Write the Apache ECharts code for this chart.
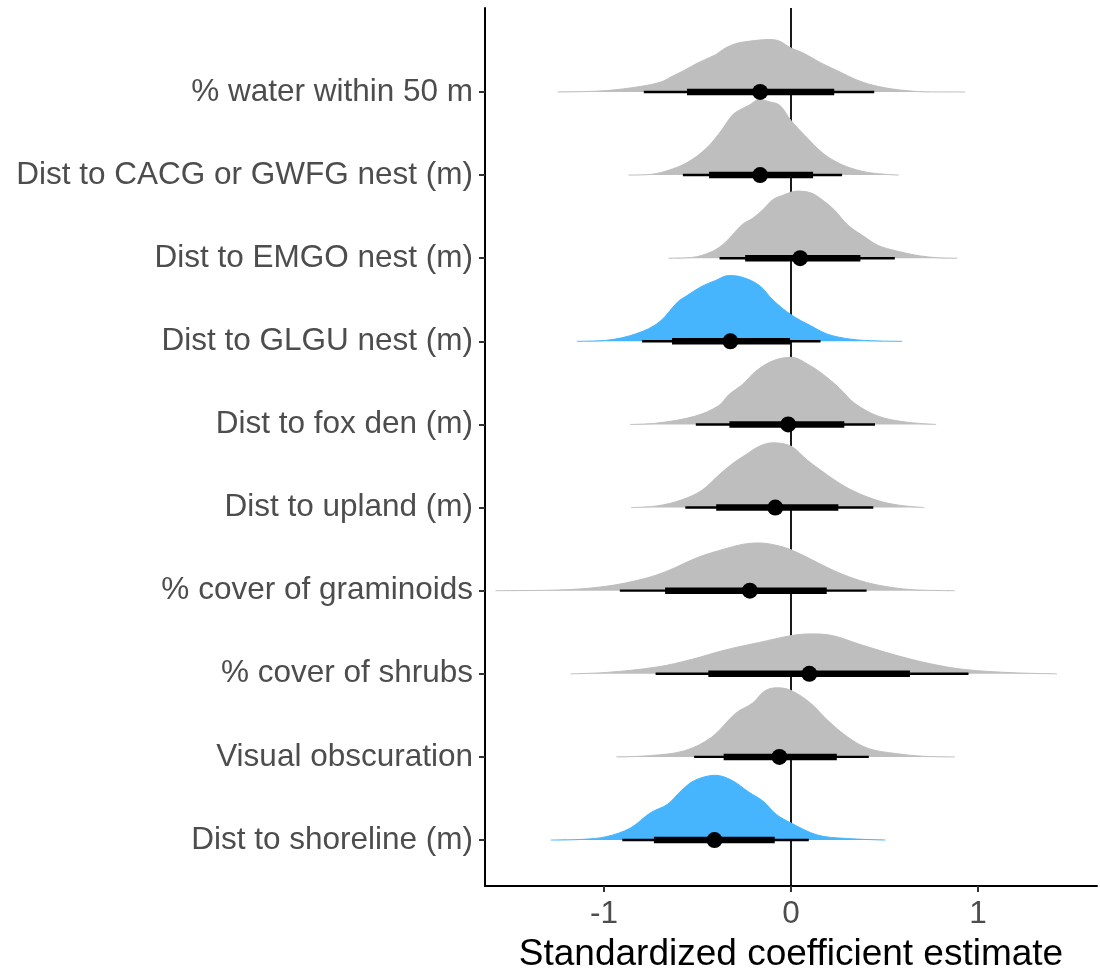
<!DOCTYPE html>
<html>
<head>
<meta charset="utf-8">
<script src="https://cdn.jsdelivr.net/npm/echarts@6/dist/echarts.min.js"></script>
<style>
  html, body { margin: 0; padding: 0; background: #fff; }
  #chart { width: 1100px; height: 970px; }
</style>
</head>
<body>
<div id="chart"></div>
<script>
// Predictors, listed bottom (row 1) to top (row 10)
const labels = [
  'Dist to shoreline (m)',
  'Visual obscuration',
  '% cover of shrubs',
  '% cover of graminoids',
  'Dist to upland (m)',
  'Dist to fox den (m)',
  'Dist to GLGU nest (m)',
  'Dist to EMGO nest (m)',
  'Dist to CACG or GWFG nest (m)',
  '% water within 50 m'
];

// Posterior summaries: median, 66% and 95% intervals
const medians   = [-0.409, -0.062, 0.098, -0.220, -0.084, -0.015, -0.324, 0.049, -0.165, -0.165];
const inner66Lo = [-0.733, -0.360, -0.442, -0.673, -0.400, -0.329, -0.636, -0.245, -0.438, -0.556];
const inner66Hi = [-0.087, 0.245, 0.636, 0.191, 0.253, 0.285, -0.005, 0.371, 0.118, 0.231];
const outer95Lo = [-0.902, -0.518, -0.724, -0.915, -0.565, -0.509, -0.796, -0.382, -0.578, -0.787];
const outer95Hi = [0.095, 0.416, 0.949, 0.404, 0.440, 0.449, 0.158, 0.555, 0.273, 0.445];

// Intervals excluding zero are shown in blue
const credible = [true, false, false, false, false, false, true, false, false, false];

// Posterior densities: [coefficient, scaled density height in row units]
const densShoreline = [[-1.284,0],[-1.115,0.008],[-0.987,0.041],[-0.86,0.143],[-0.751,0.328],[-0.66,0.43],[-0.587,0.594],[-0.515,0.717],[-0.405,0.779],[-0.315,0.717],[-0.224,0.574],[-0.151,0.471],[-0.078,0.307],[0,0.205],[0.14,0.061],[0.285,0.02],[0.504,0]];
const densVisual = [[-0.933,0],[-0.751,0.016],[-0.569,0.074],[-0.424,0.238],[-0.296,0.525],[-0.205,0.648],[-0.142,0.791],[-0.078,0.832],[0,0.8],[0.104,0.648],[0.195,0.443],[0.304,0.238],[0.413,0.102],[0.558,0.041],[0.704,0.008],[0.876,0]];
const densShrubs = [[-1.178,0],[-0.987,0.016],[-0.715,0.082],[-0.533,0.172],[-0.351,0.287],[-0.169,0.377],[0,0.459],[0.104,0.48],[0.195,0.471],[0.376,0.348],[0.558,0.225],[0.74,0.123],[0.922,0.053],[1.195,0.012],[1.422,0]];
const densGraminoids = [[-1.58,0],[-1.242,0.008],[-0.987,0.053],[-0.787,0.143],[-0.66,0.238],[-0.496,0.402],[-0.351,0.504],[-0.26,0.557],[-0.169,0.574],[-0.078,0.545],[0,0.492],[0.104,0.381],[0.213,0.258],[0.34,0.143],[0.467,0.066],[0.649,0.012],[0.876,0]];
const densUpland = [[-0.855,0],[-0.715,0.02],[-0.587,0.09],[-0.478,0.205],[-0.387,0.389],[-0.315,0.525],[-0.242,0.635],[-0.169,0.738],[-0.096,0.779],[0,0.738],[0.085,0.574],[0.158,0.451],[0.249,0.307],[0.34,0.193],[0.467,0.082],[0.576,0.029],[0.713,0]];
const densFox = [[-0.86,0],[-0.715,0.016],[-0.515,0.098],[-0.387,0.225],[-0.333,0.357],[-0.26,0.48],[-0.187,0.643],[-0.096,0.766],[0,0.807],[0.104,0.705],[0.195,0.561],[0.267,0.418],[0.34,0.254],[0.467,0.098],[0.613,0.029],[0.776,0]];
const densGLGU = [[-1.145,0],[-0.987,0.012],[-0.824,0.094],[-0.705,0.23],[-0.605,0.475],[-0.551,0.557],[-0.478,0.66],[-0.405,0.73],[-0.333,0.791],[-0.26,0.77],[-0.169,0.672],[-0.096,0.496],[0,0.32],[0.104,0.189],[0.195,0.086],[0.322,0.025],[0.467,0.004],[0.595,0]];
const densEMGO = [[-0.655,0],[-0.533,0.008],[-0.424,0.078],[-0.36,0.172],[-0.315,0.275],[-0.26,0.406],[-0.205,0.48],[-0.151,0.582],[-0.096,0.705],[-0.042,0.758],[0.031,0.807],[0.104,0.787],[0.158,0.717],[0.231,0.582],[0.304,0.398],[0.395,0.254],[0.467,0.152],[0.558,0.09],[0.685,0.029],[0.795,0.004],[0.889,0]];
const densCACG = [[-0.869,0],[-0.751,0.008],[-0.633,0.074],[-0.551,0.156],[-0.46,0.307],[-0.387,0.492],[-0.315,0.717],[-0.278,0.779],[-0.224,0.84],[-0.169,0.91],[-0.115,0.881],[-0.06,0.84],[0,0.656],[0.085,0.451],[0.158,0.287],[0.231,0.172],[0.322,0.082],[0.431,0.025],[0.576,0]];
const densWater = [[-1.247,0],[-1.115,0.004],[-0.987,0.016],[-0.805,0.066],[-0.696,0.119],[-0.642,0.18],[-0.569,0.262],[-0.496,0.352],[-0.405,0.446],[-0.351,0.528],[-0.296,0.581],[-0.224,0.61],[-0.115,0.631],[-0.06,0.61],[0,0.528],[0.067,0.467],[0.158,0.352],[0.249,0.254],[0.358,0.139],[0.467,0.066],[0.613,0.016],[0.758,0],[0.931,0]];

const densities = [densShoreline, densVisual, densShrubs, densGraminoids, densUpland,
                   densFox, densGLGU, densEMGO, densCACG, densWater];

const xTicks = [-1, 0, 1];
const rowValues = [1, 2, 3, 4, 5, 6, 7, 8, 9, 10];

const GREY = '#BEBEBE';
const BLUE = '#47B5FD';
const FONT = 'Liberation Sans, Arial, sans-serif';

const Y_MIN = 0.447, Y_MAX = 11.01;

const series = [];

// reference line at zero, drawn beneath the densities
series.push({
  type: 'line',
  data: [[0, Y_MIN], [0, Y_MAX]],
  symbol: 'none',
  silent: true,
  z: 1,
  lineStyle: { color: '#000', width: 1.8 }
});

// one filled density per predictor, based at its row
densities.forEach((dens, i) => {
  const row = rowValues[i];
  const col = credible[i] ? BLUE : GREY;
  series.push({
    type: 'line',
    data: dens.map(([x, h]) => [x, row + h]),
    symbol: 'none',
    smooth: 0.35,
    silent: true,
    z: 2,
    lineStyle: { width: 1, color: col },
    areaStyle: { origin: row, color: col, opacity: 1 }
  });
});

// interval bars and medians
series.push({
  type: 'custom',
  z: 3,
  silent: true,
  encode: { x: [1, 2, 3, 4, 5], y: 0 },
  data: rowValues.map((r, i) => [r, outer95Lo[i], outer95Hi[i], inner66Lo[i], inner66Hi[i], medians[i]]),
  renderItem: function (params, api) {
    const r = api.value(0);
    const a = api.coord([api.value(1), r]);
    const b = api.coord([api.value(2), r]);
    const c = api.coord([api.value(3), r]);
    const d = api.coord([api.value(4), r]);
    const m = api.coord([api.value(5), r]);
    return {
      type: 'group',
      children: [
        { type: 'line', shape: { x1: a[0], y1: a[1], x2: b[0], y2: b[1] },
          style: { stroke: '#000', lineWidth: 2.4 } },
        { type: 'line', shape: { x1: c[0], y1: c[1], x2: d[0], y2: d[1] },
          style: { stroke: '#000', lineWidth: 6.5 } },
        { type: 'circle', shape: { cx: m[0], cy: m[1], r: 8 },
          style: { fill: '#000' } }
      ]
    };
  }
});

const chart = echarts.init(document.getElementById('chart'), null, { renderer: 'canvas' });
chart.setOption({
  animation: false,
  backgroundColor: '#fff',
  grid: { left: 485, right: 3, top: 8, bottom: 84, containLabel: false, outerBoundsMode: 'none' },
  xAxis: {
    type: 'value',
    min: -1.636,
    max: 1.636,
    axisLine: { show: true, onZero: false, lineStyle: { color: '#000', width: 2 } },
    axisTick: { show: true, customValues: xTicks, length: 6, lineStyle: { color: '#333', width: 2 } },
    axisLabel: { customValues: xTicks, fontSize: 31.5, color: '#4D4D4D', margin: 12, fontFamily: FONT },
    splitLine: { show: false },
    name: 'Standardized coefficient estimate',
    nameLocation: 'middle',
    nameGap: 50,
    nameTextStyle: { fontSize: 37, color: '#000', fontFamily: FONT }
  },
  yAxis: {
    type: 'value',
    min: Y_MIN,
    max: Y_MAX,
    axisLine: { show: true, onZero: false, lineStyle: { color: '#000', width: 2 } },
    axisTick: { show: true, customValues: rowValues, length: 6, lineStyle: { color: '#333', width: 2 } },
    axisLabel: {
      customValues: rowValues,
      fontSize: 31.5,
      color: '#4D4D4D',
      margin: 12,
      fontFamily: FONT,
      formatter: v => labels[Math.round(v) - 1]
    },
    splitLine: { show: false }
  },
  series: series
});
</script>
</body>
</html>
